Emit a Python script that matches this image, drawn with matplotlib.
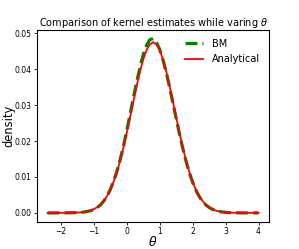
import matplotlib
matplotlib.use("Agg")
import matplotlib.pyplot as plt

theta = [-2.4, -2.3, -2.2, -2.1, -2.0, -1.9, -1.8, -1.7, -1.6, -1.5, -1.4, -1.3, -1.2, -1.1,
         -1.0, -0.9, -0.8, -0.7, -0.6, -0.5, -0.4, -0.3, -0.2, -0.1, 0.0, 0.1, 0.2, 0.3,
         0.4, 0.5, 0.6, 0.7, 0.8, 0.9, 1.0, 1.1, 1.2, 1.3, 1.4, 1.5, 1.6, 1.7, 1.8, 1.9,
         2.0, 2.1, 2.2, 2.3, 2.4, 2.5, 2.6, 2.7, 2.8, 2.9, 3.0, 3.1, 3.2, 3.3, 3.4, 3.5,
         3.6, 3.7, 3.8, 3.9, 4.0]

analytical = [0.0, 0.0, 0.0, 0.0, 0.0, 0.00001, 0.00002, 0.00003, 0.00005, 0.00009, 0.00015,
              0.00026, 0.00042, 0.00066, 0.00103, 0.00155, 0.00229, 0.00332, 0.00467, 0.00643,
              0.00864, 0.01134, 0.01455, 0.0182, 0.0223, 0.0266, 0.0310, 0.0353, 0.0393, 0.0427,
              0.0453, 0.0469, 0.0475, 0.0469, 0.0453, 0.0427, 0.0393, 0.0353, 0.0310, 0.0266,
              0.0223, 0.0182, 0.01455, 0.01134, 0.00864, 0.00643, 0.00467, 0.00332, 0.00229,
              0.00155, 0.00103, 0.00066, 0.00042, 0.00026, 0.00015, 0.00009, 0.00005, 0.00003,
              0.00002, 0.00001, 0.0, 0.0, 0.0, 0.0, 0.0]

bm = [0.0, 0.0, 0.0, 0.0, 0.00001, 0.00001, 0.00002, 0.00004, 0.00006, 0.00009, 0.00014,
      0.00024, 0.00039, 0.00060, 0.00094, 0.00145, 0.00218, 0.00325, 0.00462, 0.00645,
      0.00875, 0.0115, 0.0148, 0.0186, 0.0228, 0.0273, 0.0319, 0.0363, 0.0404, 0.0440,
      0.0466, 0.0482, 0.0485, 0.0475, 0.0455, 0.0426, 0.0391, 0.0350, 0.0306, 0.0263,
      0.0220, 0.0180, 0.01440, 0.01120, 0.00850, 0.00630, 0.00455, 0.00322, 0.00222,
      0.00150, 0.00100, 0.00064, 0.00040, 0.00025, 0.00015, 0.00009, 0.00005, 0.00003,
      0.00002, 0.00001, 0.0, 0.0, 0.0, 0.0, 0.0]

fig = plt.figure(figsize=(2.99, 2.49), dpi=100)
ax = fig.add_axes([0.124, 0.11, 0.776, 0.77])
ax.plot(theta, bm, color="green", linestyle="--", linewidth=2.3, label="BM")
ax.plot(theta, analytical, color="red", linewidth=1.3, label="Analytical")
ax.set_title(r"Comparison of kernel estimates while varing $\theta$", fontsize=7.0, pad=3)
ax.set_xlabel(r"$\theta$", fontsize=9, labelpad=-0.5)
ax.set_ylabel("density", fontsize=8.3, labelpad=-0.5)
ax.tick_params(labelsize=5.5, length=2.5, width=0.6, pad=1.5)
ax.set_xticks([-2, -1, 0, 1, 2, 3, 4])
ax.set_yticks([0.0, 0.01, 0.02, 0.03, 0.04, 0.05])
for s in ax.spines.values():
    s.set_linewidth(0.8)
ax.legend(loc="upper right", frameon=False, fontsize=7, handlelength=1.75,
          handletextpad=1.0, borderaxespad=0.5, labelspacing=0.6)
fig.savefig("out.png", dpi=100)
